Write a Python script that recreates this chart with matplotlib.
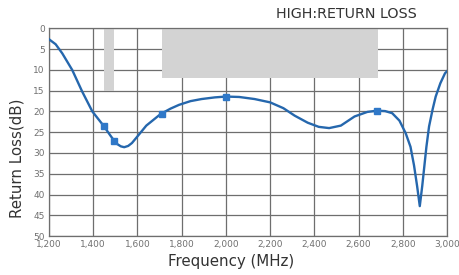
import numpy as np
import matplotlib
matplotlib.use('Agg')
import matplotlib.pyplot as plt
import matplotlib.patches as patches

# curve (MHz, dB)
freq = [1200, 1230, 1260, 1305, 1350, 1396, 1430, 1449, 1475, 1494, 1510, 1525, 1540, 1558,
        1575, 1600, 1640, 1705, 1750, 1788, 1840, 1890, 1950, 2000, 2060, 2130, 2200, 2260,
        2311, 2370, 2420, 2467, 2520, 2582, 2640, 2685, 2720, 2752, 2785, 2813, 2835, 2851,
        2865, 2877, 2888, 2896, 2907, 2919, 2935, 2949, 2970, 2991, 3000]
rl = [2.6, 3.8, 6.0, 10.0, 15.2, 20.0, 22.3, 23.6, 25.6, 27.0, 27.9, 28.4, 28.6, 28.3,
      27.6, 26.0, 23.4, 20.6, 19.3, 18.4, 17.5, 17.0, 16.6, 16.4, 16.5, 17.0, 17.8, 19.2,
      21.0, 22.7, 23.7, 24.0, 23.4, 21.2, 20.1, 19.8, 19.9, 20.4, 22.2, 25.2, 28.5, 33.0,
      38.0, 42.8, 38.0, 34.0, 28.5, 23.6, 19.5, 16.4, 13.2, 10.8, 10.3]

marker_freq = [1449, 1494, 1710, 2000, 2685]
marker_rl = [23.6, 27.0, 20.5, 16.4, 19.8]

# spec masks: (start MHz, end MHz, depth dB)
mask_start = [1450, 1710]
mask_end = [1494, 2690]
mask_depth = [15, 12]

grid_col = '#6e6e6e'
line_col = '#2567ad'
tick_col = '#707070'

fig = plt.figure(figsize=(4.59, 2.75), dpi=100)
ax = fig.add_axes([0.1068, 0.1418, 0.867, 0.7546])

for s, e, d in zip(mask_start, mask_end, mask_depth):
    ax.add_patch(patches.Rectangle((s, 0), e - s, d, facecolor='#d3d3d3',
                                   edgecolor='none', zorder=2))

ax.plot(freq, rl, color=line_col, lw=1.7, zorder=3, solid_joinstyle='round')
ax.plot(marker_freq, marker_rl, ls='none', marker='s', ms=5,
        color='#2f78c8', zorder=4)

ax.set_xlim(1200, 3000)
ax.set_ylim(50, 0)
ax.set_xticks(np.arange(1200, 3001, 200))
ax.set_xticklabels([f'{v:,}' for v in range(1200, 3001, 200)])
ax.set_yticks(np.arange(0, 51, 5))
ax.grid(True, color=grid_col, lw=0.9, zorder=1)
ax.set_axisbelow(True)
ax.tick_params(length=0, labelsize=6.5, labelcolor=tick_col, pad=3)
for sp in ax.spines.values():
    sp.set_color(grid_col)
    sp.set_linewidth(0.9)

ax.set_xlabel('Frequency (MHz)', fontsize=10.8, color='#333333')
ax.xaxis.set_label_coords(0.457, -0.085)
ax.set_ylabel('Return Loss(dB)', fontsize=10.8, color='#333333')
ax.yaxis.set_label_coords(-0.062, 0.376)
fig.text(0.754, 0.949, 'HIGH:RETURN LOSS', ha='center', va='center',
         fontsize=10.3, color='#333333')

fig.savefig('out.png', dpi=100)
